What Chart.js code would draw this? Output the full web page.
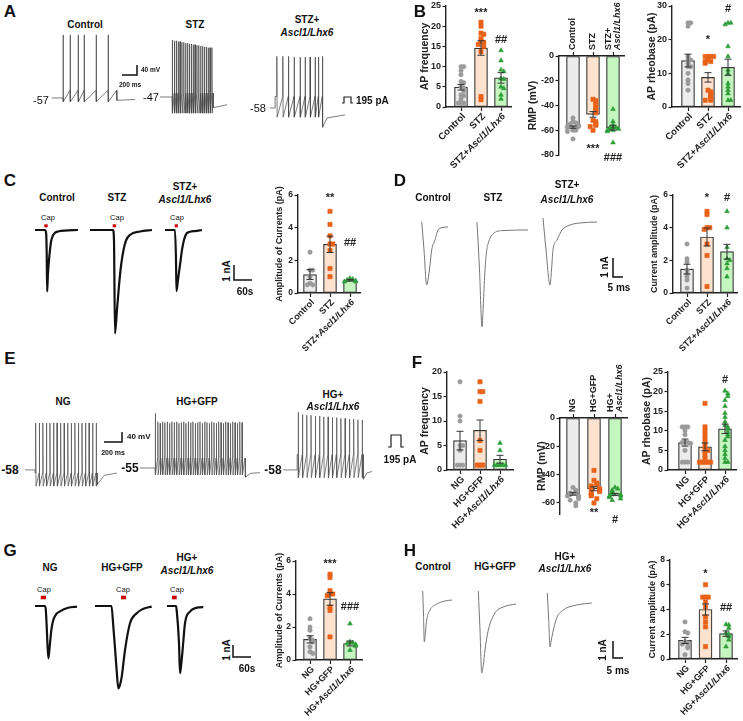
<!DOCTYPE html>
<html>
<head>
<meta charset="utf-8">
<title>Ascl1/Lhx6 electrophysiology</title>
<script src="https://cdn.jsdelivr.net/npm/chart.js@4.4.1/dist/chart.umd.min.js"></script>
<style>
  html, body { margin: 0; background: #fff; }
  #fig { position: relative; width: 743px; height: 721px; overflow: hidden; font-family: "Liberation Sans", Arial, sans-serif; color: #111; }
  #fig canvas { position: absolute; }
  #fig .t { position: absolute; white-space: nowrap; line-height: 1; }
  #deco { position: absolute; left: 0; top: 0; }
</style>
</head>
<body>
<div id="fig">
<svg id="deco" width="743" height="721">
  <g fill="none" stroke="#111" stroke-width="1.5">
    <path d="M137 65 V75 H122"/>
    <path d="M122 432 V442 H104"/>
    <path d="M234 265 V280 H252"/>
    <path d="M613 258 V277 H623"/>
    <path d="M233 645 V657 H251"/>
    <path d="M613 641 V658 H623"/>
  </g>
  <g fill="none" stroke="#222" stroke-width="1.2">
    <path d="M342 103 H344 V97 H351 V103 H353"/>
    <path d="M388 447 H391 V435 H401 V447 H404"/>
  </g>
  <g fill="#cc0000">
    <rect x="44.3" y="224.3" width="3.4" height="3"/>
    <rect x="112.7" y="224.3" width="3.4" height="3"/>
    <rect x="174.7" y="224.3" width="3.2" height="3"/>
    <rect x="40.7" y="595.7" width="5.3" height="3.6"/>
    <rect x="121" y="595.7" width="5" height="3.6"/>
    <rect x="172" y="595.7" width="4.7" height="3.6"/>
  </g>
</svg>
</div>
<script>
const FF = '"Liberation Sans", Arial, sans-serif';
Chart.defaults.font.family = FF;
Chart.defaults.color = '#222';

// group names
const stzGroups = ['Control', 'STZ', 'STZ+Ascl1/Lhx6'];
const hgGroups = ['NG', 'HG+GFP', 'HG+Ascl1/Lhx6'];

// ---- A: current-clamp traces (ms, mV)
const aCtrlStep = [147, 862];
const aCtrlLevels = [-57, -47, -62];          // rest, threshold, AHP
const aCtrlSpikes = [147, 240, 347, 427, 587, 747];
const aCtrlPeaks = [25, 25, 25, 25, 25, 25];
const aCtrlAfter = [[3, -60], [245, -59]];

const aStzStep = [160, 707];
const aStzLevels = [-47, -42, -68];
const aStzSpikes = [165, 190, 215, 240, 265, 290, 315, 340, 365, 390, 415, 440, 465, 490, 515, 540, 565, 590, 615, 640, 665, 690];
const aStzPeaks = [27, 26, 26, 25, 25, 24, 24, 23, 23, 22, 22, 21, 21, 20, 20, 19, 19, 18, 18, 17, 17, 17];
const aStzAfter = [[3, -61], [186, -57]];

const aResStep = [67, 700];
const aResLevels = [-58, -43, -70];
const aResSpikes = [89, 169, 244, 320, 400, 467, 533, 600, 644, 697];
const aResPeaks = [9, 9, 9, 8, 8, 8, 8, 8, 8, 9];
const aResAfter = [[5, -83], [60, -71], [300, -67]];

// ---- E: current-clamp traces (ms, mV)
const eNgStep = [111, 800];
const eNgLevels = [-58, -62, -79];
const eNgSpikes = [117, 157, 196, 236, 275, 315, 354, 394, 433, 473, 512, 552, 591, 631, 670, 710, 749, 789];
const eNgPeaks = [3, 3, 3, 3, 3, 3, 3, 3, 3, 3, 3, 3, 3, 3, 3, 3, 3, 3];
const eNgAfter = [[3, -77], [80, -65], [222, -62]];

const eGfpStep = [167, 1167];
const eGfpLevels = [-55, -42, -64];
const eGfpSpikes = [170, 196, 222, 248, 274, 300, 326, 352, 378, 404, 430, 456, 482, 508, 534, 560, 586, 612, 638, 664, 690, 716, 742, 768, 794, 820, 846, 872, 898, 924, 950, 976, 1002, 1028, 1054, 1080, 1106, 1132];
const eGfpPeaks = [16, 5, 3, 5, 4, 5, 3, 5, 4, 5, 3, 4, 5, 3, 5, 4, 5, 3, 4, 5, 3, 5, 4, 3, 5, 4, 3, 5, 4, 3, 5, 4, 3, 5, 4, 3, 5, 4];
const eGfpAfter = [[4, -67], [60, -62], [166, -61]];

const eResStep = [156, 890];
const eResLevels = [-58, -38, -68];
const eResSpikes = [167, 214, 262, 309, 357, 404, 451, 499, 546, 593, 641, 688, 736, 783, 830, 878];
const eResPeaks = [17, 14, 13, 13, 12, 12, 11, 11, 10, 10, 9, 9, 8, 8, 7, 7];
const eResAfter = [[4, -70], [40, -62], [99, -60]];

// ---- C / G: capsaicin currents ([s, nA])
const cCtrlCur = [[0, 0], [33, 0], [37, -0.2], [39, -1.5], [40.5, -4.1], [43, -3.0], [46.7, -2.0], [50, -1.33], [53.3, -0.8], [60, -0.35], [76.7, -0.1], [143, 0]];
const cStzCur = [[0, 0], [76.7, 0], [80, -0.7], [83.3, -6.9], [90, -5.3], [96.7, -3.7], [103.3, -2.4], [111.7, -1.33], [120, -0.7], [133, -0.33], [166.7, -0.1], [206.7, 0]];
const cResCur = [[0, 0], [33.3, 0], [36.7, -2], [38.3, -4.07], [43.3, -3.33], [50, -2.33], [56.7, -1.33], [63.3, -0.67], [73.3, -0.2], [100, -0.07], [123.3, 0]];
const gNgCur = [[0, 0], [33, 0], [36, -0.3], [39, -1.7], [44.4, -4.36], [47, -3.9], [50, -3.1], [55, -1.9], [61, -1.17], [70, -0.7], [83, -0.45], [110, -0.15], [140, -0.05]];
const gGfpCur = [[0, 0], [55, 0], [61, -1.7], [67, -3.6], [72, -5.3], [77.8, -6.86], [83, -6.6], [89, -5.9], [100, -3.67], [116.7, -1.44], [139, -0.6], [160, -0.25], [189, -0.05]];
const gResCur = [[0, 0], [30, 0], [32.2, -0.33], [40, -3.1], [43.3, -5.6], [46, -5.2], [52, -3.67], [60, -1.44], [76.7, -0.47], [110, -0.11], [121, -0.1]];

// ---- D / H: single current traces ([ms, nA])
const dCtrlCur = [[0, 0.28], [1.15, -1.21], [2.5, -3.05], [3.15, -2.79], [4.15, -2], [5, -1.21], [6.65, -0.68], [8.15, -0.16], [10.15, -0.03], [13.15, 0]];
const dStzCur = [[0, 0.42], [1.25, -2.1], [2.5, -5.1], [3.25, -3.68], [4, -2.1], [4.75, -1.16], [5.65, -0.68], [8, -0.21], [13, -0.03], [25.5, 0]];
const dResCur = [[0, 0.21], [1.5, -1.47], [3.5, -3.32], [4.25, -2.53], [5, -1.47], [7, -0.95], [9.5, -0.42], [13.5, -0.16], [18.5, -0.05], [27, 0]];
const hNgCur = [[0, 0.53], [0.4, -0.88], [0.8, -2.47], [1.4, -1.88], [2, -1.18], [3.65, -0.59], [7, -0.24], [11.15, -0.06], [14.65, 0]];
const hGfpCur = [[0, 0.76], [0.85, -1.53], [1.7, -4.06], [2.5, -3.59], [3.35, -2.71], [5, -1.53], [8.35, -0.53], [12.35, -0.18], [18.85, 0]];
const hResCur = [[0, 0.59], [0.7, -1], [1.35, -2.59], [2, -2.18], [2.7, -1.76], [4.7, -0.88], [8, -0.41], [14.7, -0.12], [22.2, 0]];

// ---- B: summary data
const bFreqMean = [4.9, 14.6, 7.2];
const bFreqSem = [0.7, 1.8, 1.3];
const bFreqCtrl = [10, 10, 9, 8, 6.3, 6, 5, 4.7, 4, 3, 2.8, 2, 1, 1, 1];
const bFreqStz = [21, 20, 18.3, 18, 17, 16.2, 16, 15.5, 15, 13.7, 2.6, 1.8];
const bFreqRes = [14, 11.5, 9.2, 8.8, 7, 6.9, 5, 4.6, 3, 2];
const bFreqTicks = [0, 5, 10, 15, 20, 25];

const bRmpMean = [-57.5, -47.2, -57.9];
const bRmpSem = [0.9, 2.3, 2.0];
const bRmpCtrl = [-50, -53, -54, -55, -56, -56, -57, -57, -58, -58, -58, -59, -59, -60, -60, -61, -67];
const bRmpStz = [-35, -36, -37.6, -40, -42, -44, -46, -52, -53, -55, -56, -57, -60];
const bRmpRes = [-43, -53, -56, -58, -58, -59, -59, -60, -60, -61, -70];
const bRmpTicks = [0, -20, -40, -60, -80];

const bRheoMean = [13.8, 8.8, 11.8];
const bRheoSem = [1.9, 1.4, 2.4];
const bRheoCtrl = [25, 25, 24, 15, 14, 14, 13, 12, 12, 10, 8, 7, 5];
const bRheoStz = [15, 15, 15, 15, 14, 13.5, 13.5, 13, 5, 4.5, 4, 3.5, 3, 2.5, 2, 2];
const bRheoRes = [25, 25, 24.5, 18, 15, 11, 10, 7, 6, 5, 4, 2, 2];
const bRheoTicks = [0, 10, 20, 30];

// ---- C, D: current amplitudes (pA)
const cAmpMean = [1.13, 2.98, 0.78];
const cAmpSem = [0.3, 0.5, 0.05];
const cAmpCtrl = [2.5, 1.4, 1.4, 1.0, 0.6, 0.5, 0.5];
const cAmpStz = [5.0, 4.2, 3.5, 3.0, 3.0, 2.6, 1.5, 1.0];
const cAmpRes = [0.9, 0.85, 0.8, 0.75, 0.7, 0.7];

const dAmpMean = [1.46, 3.43, 2.53];
const dAmpSem = [0.3, 0.55, 0.45];
const dAmpCtrl = [3.0, 2.1, 1.9, 1.4, 1.2, 1.0, 0.8, 0.3];
const dAmpStz = [5.0, 4.8, 4.0, 4.0, 3.9, 3.0, 2.3, 0.4];
const dAmpRes = [5.0, 4.0, 2.8, 2.1, 2.0, 1.8, 1.5, 1.0];
const ampTicks6 = [0, 2, 4, 6];

// ---- F: summary data (high glucose)
const fFreqMean = [6.0, 8.1, 2.2];
const fFreqSem = [1.9, 2.1, 0.8];
const fFreqNg = [18, 11, 10, 5, 5, 4, 1, 1, 1];
const fFreqGfp = [18, 16, 16, 14, 6, 4, 1, 1, 1];
const fFreqRes = [5.5, 4, 1, 1, 1, 1, 1, 1];
const fFreqTicks = [0, 5, 10, 15, 20];

const fRmpMean = [-53.5, -50, -54];
const fRmpSem = [1.0, 1.4, 0.8];
const fRmpNg = [-49, -51, -53, -53, -54, -55, -55, -56, -57, -58, -60, -62];
const fRmpGfp = [-37, -44, -46, -47, -48, -49, -50, -50, -51, -52, -53, -54, -55, -57, -60];
const fRmpRes = [-49, -50, -51, -52, -53, -54, -54, -55, -55, -56, -57, -58];
const fRmpTicks = [0, -20, -40, -60];

const fRheoMean = [7.0, 5.9, 10.5];
const fRheoSem = [0.9, 1.0, 1.2];
const fRheoNg = [11, 11, 11, 10, 9, 7.2, 7, 7, 6.8, 5, 2, 2, 2];
const fRheoGfp = [17, 11, 10, 9, 8, 7, 6, 5, 5, 4, 3, 2, 2, 2, 2, 2];
const fRheoRes = [20.2, 19.5, 18.8, 17.8, 16.3, 14.5, 13.5, 12.3, 11.4, 11, 10.5, 9.7, 9, 8.5, 7.6, 6, 5, 4, 3, 2, 2];
const fRheoTicks = [0, 5, 10, 15, 20, 25];

// ---- G, H: current amplitudes (pA)
const gAmpMean = [1.25, 3.7, 1.0];
const gAmpSem = [0.22, 0.38, 0.15];
const gAmpNg = [2.5, 2.0, 1.8, 1.35, 1.2, 1.1, 0.8, 0.5, 0.4];
const gAmpGfp = [5.2, 5.0, 4.2, 4.0, 4.0, 3.9, 3.2, 3.0, 1.4];
const gAmpRes = [2.2, 1.1, 1.05, 1.0, 0.95, 0.9, 0.85, 0.6];

const hAmpMean = [1.5, 4.0, 2.05];
const hAmpSem = [0.25, 0.45, 0.22];
const hAmpNg = [3.0, 2.2, 2.1, 1.4, 1.3, 1.2, 1.0, 0.9, 0.35];
const hAmpGfp = [6.0, 5.0, 5.0, 5.0, 4.6, 4.2, 3.4, 3.0, 2.6, 1.0];
const hAmpRes = [2.8, 2.75, 2.5, 2.1, 2.0, 1.8, 1.55, 1.0];
const ampTicks8 = [0, 2, 4, 6, 8];

// ------------------------------------------------------------------
const fig = document.getElementById('fig');
const FILL = ['#ececec', '#fde3cf', '#c6f6bf'];
const DOT = ['#9a9a9a', '#e8621a', '#2f9e3a'];
const SHAPE = ['circle', 'rect', 'triangle'];
const RAD = [2.2, 3.0, 2.7];
const SLOTS = [0, 1, -1, 2, -2];   // side-by-side slots for overlapping points

function mkCanvas(l, t, w, h) {
  const c = document.createElement('canvas');
  c.width = Math.ceil(w); c.height = Math.ceil(h);
  c.style.left = l + 'px'; c.style.top = t + 'px';
  fig.appendChild(c);
  return c;
}

function txt(html, x, y, size, opt) {
  opt = opt || {};
  const d = document.createElement('div');
  d.className = 't';
  d.innerHTML = html;
  d.style.left = x + 'px'; d.style.top = y + 'px';
  d.style.fontSize = size + 'px';
  d.style.fontWeight = opt.normal ? 'normal' : 'bold';
  d.style.transform = 'translate(' + (opt.left ? '0' : '-50%') + ', -50%)' + (opt.rot ? ' rotate(' + opt.rot + 'deg)' : '');
  fig.appendChild(d);
}

// spread points of near-equal value side by side (a few fixed slots)
function swarm(vals, tol, gap) {
  const placed = [];
  return vals.map(v => {
    const n = placed.filter(u => Math.abs(u - v) < tol).length;
    placed.push(v);
    return [SLOTS[n % SLOTS.length] * gap, v];
  });
}

function segs(label) {
  const k = label.indexOf('Ascl1/Lhx6');
  return k < 0 ? [[label, false]] : [[label.slice(0, k), false], ['Ascl1/Lhx6', true]];
}

function drawSegs(ctx, parts, fs, alignRight) {
  const font = it => (it ? 'italic ' : '') + 'bold ' + fs + 'px ' + FF;
  let w = 0;
  parts.forEach(([s, it]) => { ctx.font = font(it); w += ctx.measureText(s).width; });
  let x = alignRight ? -w : 0;
  parts.forEach(([s, it]) => { ctx.font = font(it); ctx.fillText(s, x, 0); x += ctx.measureText(s).width; });
}

function barChart(o) {
  const axisTop = !!o.axisTop;
  const L = Math.round(o.axisX - 60), R = Math.round(o.right + 6);
  const T = Math.round(axisTop ? Math.max(0, o.yTop - 60) : o.yTop - 24);
  const B = Math.round(axisTop ? o.yBot + 16 : o.yBot + 74);
  const cv = mkCanvas(L, T, R - L, B - T);
  const fs = o.fs || 9;
  const tol = 3.2 * (o.vTop - o.vBot) / (o.yBot - o.yTop);
  const datasets = [{
    type: 'bar', data: o.mean.map((m, i) => ({ x: i, y: m })),
    backgroundColor: FILL, borderColor: '#333', borderWidth: 1.2, borderSkipped: false,
    barThickness: o.bw || 13, order: 2
  }];
  o.pts.forEach((vals, i) => datasets.push({
    type: 'scatter', order: 1, clip: false,
    data: swarm(vals, tol, 2.8 / o.step).map(p => ({ x: i + p[0], y: p[1] })),
    pointStyle: SHAPE[i], pointRadius: RAD[i], backgroundColor: DOT[i], borderColor: DOT[i], borderWidth: 0.6
  }));
  const deco = {
    id: 'deco',
    afterDatasetsDraw(ch) {
      const ctx = ch.ctx, xs = ch.scales.x, ys = ch.scales.y;
      ctx.save();
      // mean +/- SEM
      ctx.strokeStyle = '#333'; ctx.lineWidth = 1;
      o.mean.forEach((m, i) => {
        const x = xs.getPixelForValue(i), a = ys.getPixelForValue(m + o.sem[i]), b = ys.getPixelForValue(m - o.sem[i]);
        ctx.beginPath();
        ctx.moveTo(x, a); ctx.lineTo(x, b);
        ctx.moveTo(x - 3.5, a); ctx.lineTo(x + 3.5, a);
        ctx.moveTo(x - 3.5, b); ctx.lineTo(x + 3.5, b);
        ctx.stroke();
      });
      // significance
      ctx.fillStyle = '#222'; ctx.textAlign = 'center'; ctx.textBaseline = 'middle';
      ctx.font = 'bold ' + (o.sfs || 11) + 'px ' + FF;
      o.sig.forEach((s, i) => { if (s) ctx.fillText(s, xs.getPixelForValue(i), ys.getPixelForValue(o.sigAt[i])); });
      // group labels
      ctx.textAlign = 'left';
      o.groups.forEach((g, i) => {
        const x = xs.getPixelForValue(i);
        if (axisTop) {
          const lines = g.includes('Ascl1') ? [[[g.replace('Ascl1/Lhx6', ''), false]], [['Ascl1/Lhx6', true]]] : [[[g, false]]];
          const offs = lines.length > 1 ? [-4.5, 4.5] : [0];
          lines.forEach((ln, k) => {
            ctx.save(); ctx.translate(x + offs[k], o.yTop - T - 6); ctx.rotate(-Math.PI / 2);
            drawSegs(ctx, ln, o.lfs || 9, false); ctx.restore();
          });
        } else {
          ctx.save(); ctx.translate(x + 3, o.yBot - T + 8); ctx.rotate(-Math.PI / 4);
          drawSegs(ctx, segs(g), o.lfs || fs + 0.5, true); ctx.restore();
        }
      });
      // axis title
      ctx.save(); ctx.translate(o.axisX - o.tOff - L, (o.yTop + o.yBot) / 2 - T); ctx.rotate(-Math.PI / 2);
      ctx.textAlign = 'center'; ctx.font = 'bold ' + (o.tfs || 10) + 'px ' + FF; ctx.fillText(o.title, 0, 0); ctx.restore();
      ctx.restore();
    }
  };
  new Chart(cv, {
    type: 'bar',
    data: { datasets },
    options: {
      responsive: false, animation: false, devicePixelRatio: 1, events: [],
      layout: { padding: { left: 0, right: R - o.right, top: axisTop ? 0 : o.yTop - T, bottom: axisTop ? B - o.yBot : 0 } },
      plugins: { legend: { display: false }, tooltip: { enabled: false } },
      scales: {
        x: {
          type: 'linear', position: axisTop ? 'top' : 'bottom', offset: false,
          min: -(o.c0 - o.axisX) / o.step, max: (o.right - o.c0) / o.step,
          afterBuildTicks: s => { s.ticks = [0, 1, 2].map(v => ({ value: v })); },
          afterFit: s => { s.height = axisTop ? o.yTop - T : B - o.yBot; },
          ticks: { display: false },
          grid: { drawOnChartArea: false, offset: false, tickLength: 4, color: '#222', tickColor: '#222', tickWidth: 1.2 },
          border: { color: '#222', width: 1.4 }
        },
        y: {
          type: 'linear', min: o.vBot, max: o.vTop,
          afterBuildTicks: s => { s.ticks = o.ticks.map(v => ({ value: v })); },
          afterFit: s => { s.width = o.axisX - L; },
          ticks: { font: { size: fs, weight: 'bold' }, color: '#222', padding: 1.5 },
          grid: { drawOnChartArea: false, tickLength: 3.5, tickColor: '#222', tickWidth: 1.2 },
          border: { color: '#222', width: 1.4 }
        }
      }
    },
    plugins: [deco]
  });
}

// voltage trace from step timing, levels and spike list
function spikeTrace(step, lv, spikes, peaks, after) {
  const [tOn, tOff] = step, [rest, thr, trough] = lv;
  const p = [[0, rest], [tOn, rest]];
  if (spikes[0] > tOn + 1) p.push([tOn + 1, thr]);
  spikes.forEach((t, i) => p.push([t, thr], [t + 2, peaks[i]], [t + 6, trough]));
  p.push([tOff, thr]);
  after.forEach(([dt, v]) => p.push([tOff + dt, v]));
  return p;
}

// x0,y0: page position of (t=0, value=0); px, py: pixels per unit
function trace(pts, x0, y0, px, py, color, lw, smooth) {
  const ts = pts.map(p => p[0]), vs = pts.map(p => p[1]);
  const l = Math.floor(x0 + Math.min(...ts) * px - 3), r = Math.ceil(x0 + Math.max(...ts) * px + 3);
  const t = Math.floor(y0 - Math.max(...vs) * py - 3), b = Math.ceil(y0 - Math.min(...vs) * py + 3);
  const c = mkCanvas(l, t, r - l, b - t);
  new Chart(c, {
    type: 'line',
    data: { datasets: [{
      data: pts.map(p => ({ x: p[0], y: p[1] })), borderColor: color, borderWidth: lw,
      pointRadius: 0, fill: false, tension: 0, cubicInterpolationMode: smooth ? 'monotone' : 'default', clip: false
    }] },
    options: {
      responsive: false, animation: false, devicePixelRatio: 1, events: [],
      layout: { padding: 0 },
      plugins: { legend: { display: false }, tooltip: { enabled: false } },
      scales: {
        x: { type: 'linear', display: false, min: (l - x0) / px, max: (r - x0) / px },
        y: { type: 'linear', display: false, min: (y0 - b) / py, max: (y0 - t) / py }
      }
    }
  });
}

// ---- A
trace(spikeTrace(aCtrlStep, aCtrlLevels, aCtrlSpikes, aCtrlPeaks, aCtrlAfter), 52, 54.1, 0.075, 0.77, '#444', 0.7);
trace(spikeTrace(aStzStep, aStzLevels, aStzSpikes, aStzPeaks, aStzAfter), 160, 60.8, 0.075, 0.77, '#444', 0.7);
trace(spikeTrace(aResStep, aResLevels, aResSpikes, aResPeaks, aResAfter), 270, 63.3, 0.075, 0.77, '#444', 0.7);
// ---- E
trace(spikeTrace(eNgStep, eNgLevels, eNgSpikes, eNgPeaks, eNgAfter), 25, 425.3, 0.09, 0.77, '#555', 0.75);
trace(spikeTrace(eGfpStep, eGfpLevels, eGfpSpikes, eGfpPeaks, eGfpAfter), 140, 425.65, 0.09, 0.77, '#555', 0.75);
trace(spikeTrace(eResStep, eResLevels, eResSpikes, eResPeaks, eResAfter), 283, 425.3, 0.09, 0.77, '#555', 0.75);
// ---- C, G
trace(cCtrlCur, 35, 230, 0.3, 15, '#111', 2.2, true);
trace(cStzCur, 90, 230, 0.3, 15, '#111', 2.2, true);
trace(cResCur, 165, 230, 0.3, 15, '#111', 2.2, true);
trace(gNgCur, 35, 606, 0.3, 12, '#111', 2.2, true);
trace(gGfpCur, 95, 606, 0.3, 12, '#111', 2.2, true);
trace(gResCur, 167, 606, 0.3, 12, '#111', 2.2, true);
// ---- D, H
trace(dCtrlCur, 421.7, 227, 2, 19, '#777', 1, true);
trace(dStzCur, 477, 230, 2, 19, '#777', 1, true);
trace(dResCur, 543, 222, 2, 19, '#777', 1, true);
trace(hNgCur, 422.7, 600, 2, 17, '#777', 1, true);
trace(hGfpCur, 478.3, 604, 2, 17, '#777', 1, true);
trace(hResCur, 547.3, 603, 2, 17, '#777', 1, true);

// ---- summary bar charts
barChart({ axisX: 446, c0: 461, step: 20, right: 511, yTop: 6, yBot: 107, vTop: 25, vBot: 0, ticks: bFreqTicks,
  mean: bFreqMean, sem: bFreqSem, pts: [bFreqCtrl, bFreqStz, bFreqRes], groups: stzGroups,
  sig: ['', '***', '##'], sigAt: [0, 23.2, 16.5], title: 'AP frequency', tOff: 21, fs: 9, tfs: 10.5, lfs: 9.5 });
barChart({ axisX: 559, c0: 573, step: 20, right: 624, yTop: 56, yBot: 155, vTop: 0, vBot: -80, ticks: bRmpTicks, axisTop: true,
  mean: bRmpMean, sem: bRmpSem, pts: [bRmpCtrl, bRmpStz, bRmpRes], groups: stzGroups,
  sig: ['', '***', '###'], sigAt: [0, -75, -82], title: 'RMP (mV)', tOff: 26, fs: 9, tfs: 10.5 });
barChart({ axisX: 672, c0: 688, step: 20, right: 740, yTop: 6, yBot: 107, vTop: 30, vBot: 0, ticks: bRheoTicks,
  mean: bRheoMean, sem: bRheoSem, pts: [bRheoCtrl, bRheoStz, bRheoRes], groups: stzGroups,
  sig: ['', '*', '#'], sigAt: [0, 20, 29], title: 'AP rheobase (pA)', tOff: 20, fs: 9, tfs: 10.5, lfs: 9.5 });
barChart({ axisX: 298, c0: 310, step: 20, right: 360, yTop: 195, yBot: 293, vTop: 6, vBot: 0, ticks: ampTicks6,
  mean: cAmpMean, sem: cAmpSem, pts: [cAmpCtrl, cAmpStz, cAmpRes], groups: stzGroups,
  sig: ['', '**', '##'], sigAt: [0, 5.8, 3.05], title: 'Amplitude of Currents (pA)', tOff: 18, fs: 8.5, tfs: 9 });
barChart({ axisX: 673, c0: 687, step: 20, right: 737, yTop: 195, yBot: 293, vTop: 6, vBot: 0, ticks: ampTicks6,
  mean: dAmpMean, sem: dAmpSem, pts: [dAmpCtrl, dAmpStz, dAmpRes], groups: stzGroups,
  sig: ['', '*', '#'], sigAt: [0, 5.8, 5.8], title: 'Current amplitude (pA)', tOff: 18, fs: 8.5, tfs: 9 });
barChart({ axisX: 447, c0: 460, step: 20, right: 513, yTop: 372, yBot: 470, vTop: 20, vBot: 0, ticks: fFreqTicks,
  mean: fFreqMean, sem: fFreqSem, pts: [fFreqNg, fFreqGfp, fFreqRes], groups: hgGroups,
  sig: ['', '', ''], sigAt: [0, 0, 0], title: 'AP frequency', tOff: 22, fs: 9, tfs: 10.5, lfs: 9.5 });
barChart({ axisX: 560, c0: 573, step: 21, right: 627, yTop: 418, yBot: 514.3, vTop: 0, vBot: -68, ticks: fRmpTicks, axisTop: true,
  mean: fRmpMean, sem: fRmpSem, pts: [fRmpNg, fRmpGfp, fRmpRes], groups: hgGroups,
  sig: ['', '**', '#'], sigAt: [0, -67, -72], title: 'RMP (mV)', tOff: 18, fs: 9, tfs: 10.5 });
barChart({ axisX: 668, c0: 685, step: 20, right: 736, yTop: 372, yBot: 470, vTop: 25, vBot: 0, ticks: fRheoTicks,
  mean: fRheoMean, sem: fRheoSem, pts: [fRheoNg, fRheoGfp, fRheoRes], groups: hgGroups,
  sig: ['', '', '#'], sigAt: [0, 0, 22.9], title: 'AP rheobase (pA)', tOff: 21, fs: 9, tfs: 10.5, lfs: 9.5 });
barChart({ axisX: 296, c0: 310, step: 20, right: 362, yTop: 561, yBot: 660, vTop: 6, vBot: 0, ticks: ampTicks6,
  mean: gAmpMean, sem: gAmpSem, pts: [gAmpNg, gAmpGfp, gAmpRes], groups: hgGroups,
  sig: ['', '***', '###'], sigAt: [0, 5.85, 3.2], title: 'Amplitude of Currents (pA)', tOff: 16, fs: 8.5, tfs: 9 });
barChart({ axisX: 670, c0: 685, step: 20.5, right: 737, yTop: 560, yBot: 659, vTop: 8, vBot: 0, ticks: ampTicks8,
  mean: hAmpMean, sem: hAmpSem, pts: [hAmpNg, hAmpGfp, hAmpRes], groups: hgGroups,
  sig: ['', '*', '##'], sigAt: [0, 6.9, 4.1], title: 'Current amplitude (pA)', tOff: 17, fs: 8.5, tfs: 9 });

// ---- text
[['A', 10, 11], ['B', 420, 11], ['C', 10, 180], ['D', 400, 180], ['E', 10, 358], ['F', 417, 362], ['G', 10, 550], ['H', 410, 550]]
  .forEach(([s, x, y]) => txt(s, x, y, 17));

const ital = '<i>Ascl1/Lhx6</i>';
[['Control', 85, 25], ['STZ', 195, 25], ['STZ+', 307, 20], [ital, 307, 33],
 ['Control', 57, 198], ['STZ', 117, 198], ['STZ+', 185, 187], [ital, 185, 200],
 ['Control', 433, 198], ['STZ', 493, 198], ['STZ+', 567, 185], [ital, 567, 200],
 ['NG', 63, 402], ['HG+GFP', 197, 402], ['HG+', 333, 395], [ital, 333, 407],
 ['NG', 50, 568], ['HG+GFP', 122, 568], ['HG+', 187, 558], [ital, 187, 571],
 ['Control', 433, 567], ['HG+GFP', 495, 567], ['HG+', 565, 557], [ital, 565, 569]]
  .forEach(([s, x, y]) => txt(s, x, y, 10));

[['-57', 41, 100], ['-47', 151, 97], ['-58', 258, 108]].forEach(([s, x, y]) => txt(s, x, y, 11, { normal: true }));
[['-58', 10, 470], ['-55', 130, 468], ['-58', 273, 470]].forEach(([s, x, y]) => txt(s, x, y, 12));

txt('40 mV', 141, 70, 6.5, { left: true });
txt('200 ms', 130, 85, 6.5);
txt('40 mV', 127, 437, 8, { left: true });
txt('200 ms', 113, 452, 7);
txt('195 pA', 356, 101, 10, { left: true });
txt('195 pA', 400, 460, 10);

[[227, 271], [605, 267], [227, 650], [603, 650]].forEach(([x, y]) => txt('1 nA', x, y, 10, { rot: -90 }));
txt('60s', 245, 292, 10); txt('5 ms', 619, 288, 10);
txt('60s', 247, 669, 10); txt('5 ms', 618, 671, 10);

[[48, 218], [117, 218], [177, 218], [44, 590], [123, 590], [177, 590]].forEach(([x, y]) => txt('Cap', x, y, 7.5, { normal: true }));
</script>
</body>
</html>
